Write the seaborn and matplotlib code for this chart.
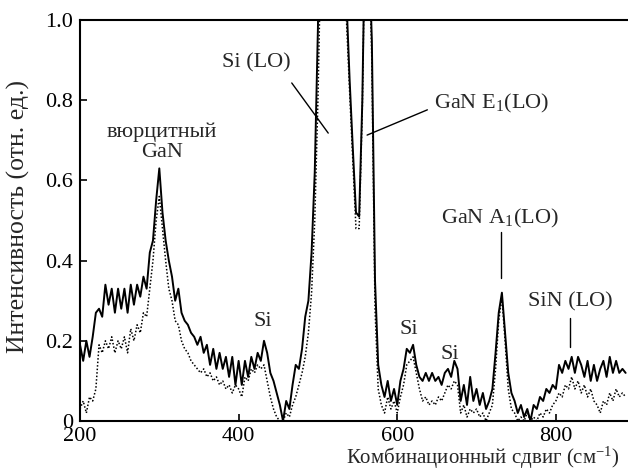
import numpy as np
import pandas as pd
import matplotlib
matplotlib.use("Agg")
import matplotlib.pyplot as plt
import seaborn as sns

# Raman shift grid (cm^-1), step 4, 200..888
shift_start, shift_step = 200, 4

# Solid spectrum (rows of 10 -> 40 cm^-1 each)
solid = [
    0.19, 0.15, 0.20, 0.16, 0.21, 0.27, 0.28, 0.26, 0.34, 0.29,   # 200-236
    0.33, 0.27, 0.33, 0.28, 0.33, 0.27, 0.34, 0.29, 0.34, 0.31,   # 240-276
    0.36, 0.33, 0.42, 0.45, 0.55, 0.63, 0.52, 0.45, 0.40, 0.36,   # 280-316
    0.30, 0.33, 0.27, 0.25, 0.24, 0.22, 0.21, 0.19, 0.21, 0.17,   # 320-356
    0.19, 0.14, 0.18, 0.13, 0.17, 0.13, 0.16, 0.11, 0.16, 0.09,   # 360-396
    0.15, 0.09, 0.15, 0.11, 0.16, 0.13, 0.17, 0.15, 0.20, 0.17,   # 400-436
    0.12, 0.10, 0.07, 0.04, 0.00, 0.05, 0.03, 0.09, 0.14, 0.13,   # 440-476
    0.18, 0.26, 0.30, 0.42, 0.62, 0.98, 1.60, 2.50, 3.50, 4.00,   # 480-516
    4.00, 3.00, 2.00, 1.40, 1.05, 0.85, 0.68, 0.52, 0.51, 0.80,   # 520-556
    1.30, 1.20, 0.95, 0.35, 0.14, 0.09, 0.06, 0.10, 0.05, 0.08,   # 560-596
    0.04, 0.10, 0.13, 0.18, 0.17, 0.19, 0.14, 0.11, 0.10, 0.12,   # 600-636
    0.10, 0.12, 0.10, 0.11, 0.09, 0.12, 0.13, 0.11, 0.15, 0.13,   # 640-676
    0.05, 0.09, 0.04, 0.11, 0.05, 0.08, 0.04, 0.07, 0.03, 0.05,   # 680-716
    0.08, 0.17, 0.27, 0.32, 0.22, 0.12, 0.07, 0.05, 0.02, 0.04,   # 720-756
    0.01, 0.03, 0.00, 0.04, 0.03, 0.06, 0.05, 0.08, 0.07, 0.09,   # 760-796
    0.08, 0.14, 0.12, 0.15, 0.13, 0.16, 0.12, 0.16, 0.14, 0.11,   # 800-836
    0.15, 0.10, 0.14, 0.10, 0.13, 0.15, 0.11, 0.16, 0.12, 0.15,   # 840-876
    0.12, 0.13, 0.12,                                             # 880-888
]

# Dotted spectrum
dotted = [
    0.03, 0.05, 0.02, 0.06, 0.05, 0.08, 0.19, 0.17, 0.20, 0.18,   # 200-236
    0.21, 0.17, 0.20, 0.18, 0.21, 0.17, 0.23, 0.20, 0.24, 0.22,   # 240-276
    0.27, 0.26, 0.33, 0.40, 0.50, 0.56, 0.48, 0.40, 0.33, 0.30,   # 280-316
    0.25, 0.24, 0.20, 0.18, 0.17, 0.15, 0.14, 0.13, 0.12, 0.13,   # 320-356
    0.11, 0.12, 0.10, 0.11, 0.09, 0.10, 0.08, 0.09, 0.07, 0.09,   # 360-396
    0.08, 0.06, 0.11, 0.10, 0.13, 0.12, 0.14, 0.13, 0.14, 0.10,   # 400-436
    0.06, 0.03, 0.01, 0.00, 0.00, 0.02, 0.01, 0.04, 0.06, 0.09,   # 440-476
    0.12, 0.16, 0.22, 0.32, 0.50, 0.80, 1.20, 2.00, 3.00, 3.80,   # 480-516
    3.80, 2.80, 1.90, 1.30, 1.00, 0.82, 0.65, 0.48, 0.48, 0.78,   # 520-556
    1.30, 1.20, 0.90, 0.28, 0.08, 0.04, 0.02, 0.06, 0.03, 0.05,   # 560-596
    0.02, 0.06, 0.09, 0.14, 0.15, 0.16, 0.12, 0.08, 0.05, 0.06,   # 600-636
    0.04, 0.05, 0.04, 0.06, 0.05, 0.07, 0.09, 0.08, 0.10, 0.09,   # 640-676
    0.02, 0.04, 0.01, 0.03, 0.02, 0.03, 0.01, 0.02, 0.00, 0.02,   # 680-716
    0.04, 0.13, 0.25, 0.31, 0.20, 0.08, 0.03, 0.02, 0.00, 0.01,   # 720-756
    0.00, 0.02, 0.00, 0.01, 0.00, 0.02, 0.01, 0.03, 0.02, 0.04,   # 760-796
    0.05, 0.07, 0.06, 0.09, 0.08, 0.11, 0.08, 0.10, 0.07, 0.09,   # 800-836
    0.06, 0.08, 0.05, 0.04, 0.02, 0.05, 0.04, 0.07, 0.05, 0.08,   # 840-876
    0.06, 0.07, 0.06,                                             # 880-888
]

x_ticks = [200, 400, 600, 800]
y_ticks = [0, 0.2, 0.4, 0.6, 0.8, 1.0]
y_tick_labels = ["0", "0.2", "0.4", "0.6", "0.8", "1.0"]

shift = np.arange(len(solid)) * shift_step + shift_start
df = pd.DataFrame({"shift": shift, "solid": solid, "dotted": dotted})

sns.set_style("ticks")
plt.rcParams["font.family"] = ["Liberation Serif", "DejaVu Serif"]
plt.rcParams["mathtext.fontset"] = "custom"
plt.rcParams["mathtext.rm"] = "Liberation Serif"
plt.rcParams["mathtext.it"] = "Liberation Serif:italic"

fig = plt.figure(figsize=(6.28, 4.73), dpi=100)
ax = fig.add_axes([0.1274, 0.1099, 0.8726, 0.8478])

sns.lineplot(data=df, x="shift", y="dotted", ax=ax, color="black",
             linestyle=(0, (1, 1.3)), linewidth=1.1)
sns.lineplot(data=df, x="shift", y="solid", ax=ax, color="black",
             linewidth=1.4)

ax.set_xlim(200, 891)
ax.set_ylim(0, 1.0)
ax.set_xticks(x_ticks)
ax.set_yticks(y_ticks)
ax.set_yticklabels(y_tick_labels)
ax.tick_params(direction="in", length=5, width=1.2, labelsize=16, pad=5,
               colors="black")
ax.tick_params(axis="x", pad=4)
for s in ["left", "bottom", "top"]:
    ax.spines[s].set_linewidth(1.5)
    ax.spines[s].set_color("black")
ax.spines["right"].set_visible(False)

ax.set_xlabel("")
ax.set_ylabel("")
fig.text(0.987, 0.032, "Комбинационный сдвиг (см$^{-1}$)", fontsize=15,
         ha="right", va="center")
fig.text(0.029, 0.543, "Интенсивность (отн. ед.)", fontsize=18.5,
         ha="center", va="center", rotation=90)

fs = 16
ax.text(303, 0.695, "вюрцитный\nGaN", ha="center", va="center", fontsize=fs,
        linespacing=1.05)
ax.text(422, 0.893, "Si (LO)", ha="center", va="center", fontsize=fs)
ax.plot([467, 513], [0.843, 0.718], color="black", lw=1)
ax.text(646, 0.793, "GaN E$_1$(LO)", ha="left", va="center", fontsize=fs)
ax.plot([638, 562], [0.776, 0.713], color="black", lw=1)
ax.text(730, 0.506, "GaN A$_1$(LO)", ha="center", va="center", fontsize=fs)
ax.plot([731, 731], [0.471, 0.357], color="black", lw=1)
ax.text(818, 0.297, "SiN (LO)", ha="center", va="center", fontsize=fs)
ax.plot([818, 818], [0.257, 0.185], color="black", lw=1)
ax.text(430, 0.247, "Si", ha="center", va="center", fontsize=fs)
ax.text(615, 0.227, "Si", ha="center", va="center", fontsize=fs)
ax.text(666, 0.165, "Si", ha="center", va="center", fontsize=fs)

fig.savefig("out.png", dpi=100)
